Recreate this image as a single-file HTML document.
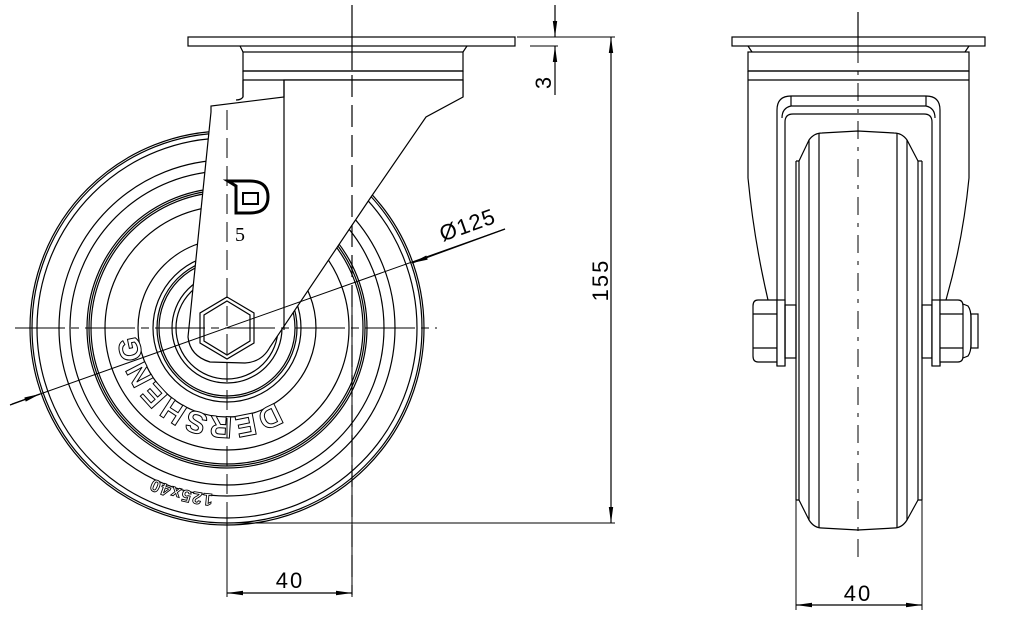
<!DOCTYPE html>
<html><head><meta charset="utf-8"><style>html,body{margin:0;padding:0;background:#fff}svg{display:block}</style></head>
<body>
<svg width="1012" height="627" viewBox="0 0 1012 627" xmlns="http://www.w3.org/2000/svg" font-family="Liberation Sans, sans-serif">
<defs>
<marker id="ar" markerWidth="16" markerHeight="6" refX="16" refY="3" orient="auto" markerUnits="userSpaceOnUse"><path d="M0,0.8 L16,3 L0,5.2 Z" fill="#000"/></marker>
</defs>
<g fill="none" stroke="#000" stroke-width="1.2">
<g>
<circle cx="227" cy="328" r="197"/><circle cx="227" cy="328" r="195"/><circle cx="227" cy="328" r="190"/>
<circle cx="227" cy="328" r="168"/><circle cx="227" cy="328" r="157"/>
<circle cx="227" cy="328" r="140"/><circle cx="227" cy="328" r="138"/><circle cx="227" cy="328" r="136"/>
<circle cx="227" cy="328" r="122"/>
<circle cx="227" cy="328" r="89"/><circle cx="227" cy="328" r="74"/><circle cx="227" cy="328" r="70"/><circle cx="227" cy="328" r="68"/>
<circle cx="227" cy="328" r="55"/><circle cx="227" cy="328" r="51"/>
</g>
<path id="p1" d="M 275 402 A 88 88 0 0 1 140 344" stroke="none"/>
<text font-size="31" font-weight="bold" fill="#fff" stroke="#000" stroke-width="1" letter-spacing="1"><textPath href="#p1">DERSHENG</textPath></text>
<path id="p2" d="M 213 494 A 166 166 0 0 1 118 456" stroke="none"/>
<text font-size="17" font-weight="bold" fill="#fff" stroke="#000" stroke-width="0.9" letter-spacing="1"><textPath href="#p2">125x40</textPath></text>
<rect x="188" y="37" width="327" height="9" fill="#fff"/>
<path d="M240,46 L243,52 M467,46 L463,52" />
<rect x="243" y="52" width="220" height="19" fill="#fff"/>
<path d="M243,71 L463,71 M243,80 L463,80 M243,71 L243,97 M463,71 L463,97"/>
<path d="M463,80 L463,97 L426,117 L371,197 L270,347 Q262,362 245,363 L210,362 Q190,356 188,337 L211,112 L211,106 L284,97 L284,80 Z" fill="#fff"/>
<path d="M243,80 L243,97 Q241,100 236,100"/>
<path d="M284,80 L284,330"/>
<polygon points="227,297 254,313 254,343 227,359 200,343 200,313" fill="#fff"/>
<polygon points="227,301 250,315 250,341 227,355 204,341 204,315"/>
<path d="M228,181 L250,181 Q268,181 268,197 Q268,213 250,213 L236,213 L236,186 Z" stroke-width="3"/>
<path d="M243,193 L258,193 L258,204 L243,204 Z" stroke-width="2"/>
<path d="M352,5 L352,70" />
<path d="M352,75 L352,595" stroke-dasharray="22,8" />
<path d="M15,328 L437,328" stroke-dasharray="50,6,8,6" stroke-width="1"/>
<path d="M227,110 L227,595" stroke-dasharray="20,8" stroke-width="1"/>
<path d="M12,404 L505,229" stroke-width="1"/>
<path d="M10,405 L40,394" marker-end="url(#ar)"/>
<path d="M505,229 L412,263" marker-end="url(#ar)"/>
<path d="M352,300 L352,597 M227,520 L227,597" stroke-width="1"/>
<path d="M290,593 L227,593" marker-end="url(#ar)"/>
<path d="M290,593 L352,593" marker-end="url(#ar)"/>
<path d="M517,37 L615,37 M227,523 L615,523 M558,46 L530,46" stroke-width="1"/>
<path d="M611,280 L611,37" marker-end="url(#ar)"/>
<path d="M611,280 L611,523" marker-end="url(#ar)"/>
<path d="M555,5 L555,37" marker-end="url(#ar)"/>
<path d="M555,95 L555,46" marker-end="url(#ar)"/>

<rect x="732" y="37" width="253" height="9"/>
<path d="M748,46 L752,52 M969,46 L965,52"/>
<rect x="748" y="52" width="221" height="19"/>
<path d="M748,71 L969,71 M748,80 L969,80"/>
<path d="M748,71 L748,178 Q754,240 768,300 M969,71 L969,178 Q963,240 946,300"/>
<path d="M777,366 L777,110 Q777,96 791,96 L926,96 Q940,96 940,110 L940,366"/>
<path d="M785,366 L785,122 Q785,114 793,114 L924,114 Q932,114 932,122 L932,366"/>
<path d="M791,96 L791,106 L926,106 L926,96 M782,118 Q782,108 791,106 M935,118 Q935,108 926,106"/>
<path d="M796,161 L796,500 M799,161 L799,500 M918,161 L918,500 M922,161 L922,500 M796,161 L799,161 M918,161 L922,161 M796,500 L799,500 M918,500 L922,500"/>
<path d="M799,161 L809,140 Q814,133 822,133 L858,131 L894,133 Q902,133 907,140 L918,161"/>
<path d="M799,500 L809,520 Q814,528 822,528 L858,530 L894,528 Q902,528 907,520 L918,500"/>
<path d="M809,140 L809,520 M819,133 L819,528 M897,133 L897,528 M907,140 L907,520"/>
<path d="M753,306 Q753,300 758,300 L777,300 L777,362 L758,362 Q753,362 753,356 Z M753,314 L777,314 M753,348 L777,348" fill="#fff"/>
<rect x="777" y="300" width="8" height="66" fill="#fff"/>
<rect x="785" y="305" width="11" height="53"/>
<rect x="922" y="305" width="10" height="53"/>
<rect x="932" y="300" width="8" height="66" fill="#fff"/>
<path d="M940,300 L958,300 Q963,300 963,306 L963,356 Q963,362 958,362 L940,362 Z M940,314 L963,314 M940,348 L963,348" fill="#fff"/>
<path d="M963,304 L968,306 Q971,310 971,318 L971,344 Q971,352 968,356 L963,358"/>
<rect x="971" y="314" width="7" height="34"/>
<path d="M858,12 L858,45" />
<path d="M858,45 L858,565" stroke-dasharray="18,8,4,8" stroke-width="1"/>
<path d="M796,500 L796,610 M922,500 L922,610" stroke-width="1"/>
<path d="M858,605 L796,605" marker-end="url(#ar)"/>
<path d="M858,605 L922,605" marker-end="url(#ar)"/>
</g>
<g fill="#000" font-size="22">
<text x="290" y="588" text-anchor="middle" letter-spacing="2">40</text>
<text x="858" y="601" text-anchor="middle" letter-spacing="2">40</text>
<text transform="translate(608,280) rotate(-90)" text-anchor="middle" letter-spacing="2">155</text>
<text transform="translate(551,83) rotate(-90)" text-anchor="middle">3</text>
<text transform="translate(470,232) rotate(-19.5)" text-anchor="middle" letter-spacing="1">Ø125</text>
</g>
<text x="240" y="241" font-size="20" font-family="Liberation Serif, serif" text-anchor="middle" fill="#000">5</text>
</svg>
</body></html>
